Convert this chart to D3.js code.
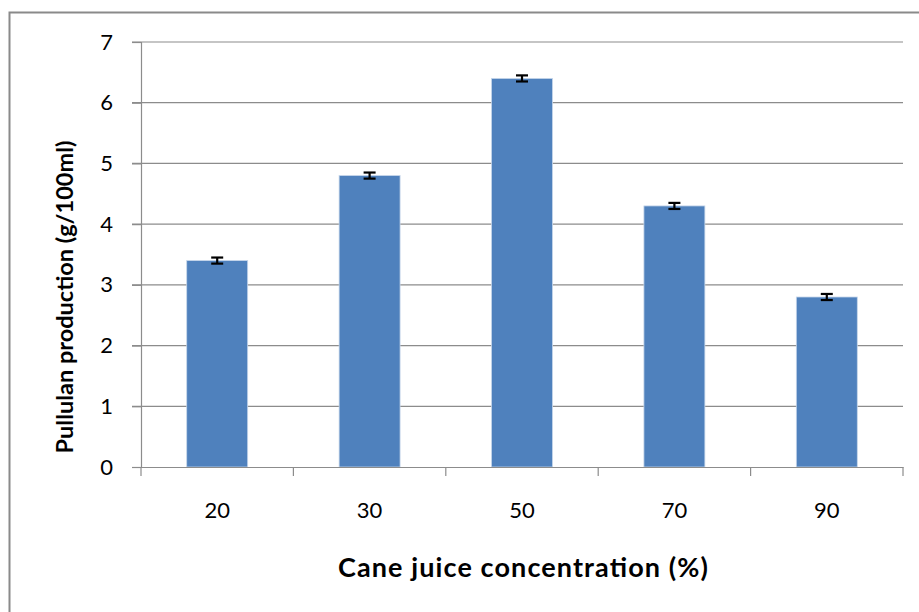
<!DOCTYPE html>
<html><head><meta charset="utf-8">
<script src="https://cdn.jsdelivr.net/npm/d3@7"></script>
<style>body{margin:0;background:#fff}</style>
</head><body>
<svg id="c" width="919" height="612"></svg>
<script>
const categories = ["20", "30", "50", "70", "90"];
const values = [3.4, 4.8, 6.4, 4.3, 2.8];
const errors = [0.05, 0.05, 0.05, 0.05, 0.05];
const yTicks = [0, 1, 2, 3, 4, 5, 6, 7];

const svg = d3.select("#c");
const font = "Lato, 'Open Sans', sans-serif";
const mLeft = 141, mRight = 903, mTop = 42, mBottom = 467;

svg.append("rect").attr("x", 9.5).attr("y", 12.5).attr("width", 950).attr("height", 650)
  .attr("fill", "none").attr("stroke", "#8a8a8a").attr("stroke-width", 2);

const x = d3.scaleBand().domain(categories).range([mLeft, mRight]).paddingInner(0.6).paddingOuter(0.3);
const xOuter = d3.scaleBand().domain(categories).range([mLeft, mRight]);
const y = d3.scaleLinear().domain([0, 7]).range([mBottom, mTop]);

// gridlines
svg.append("g").selectAll("line").data(yTicks.filter(d => d > 0)).join("line")
  .attr("x1", mLeft - 9).attr("x2", mRight).attr("y1", d => y(d)).attr("y2", d => y(d))
  .attr("stroke", "#8c8c8c").attr("stroke-width", 1.2);

// y axis
const ya = svg.append("g").attr("transform", `translate(${mLeft},0)`)
  .call(d3.axisLeft(y).tickValues(yTicks).tickSize(9).tickPadding(19).tickFormat(d3.format("d")));
ya.select(".domain").attr("stroke", "#8c8c8c").attr("stroke-width", 1.2);
ya.selectAll(".tick line").attr("stroke", "#8c8c8c").attr("stroke-width", 1.2);
ya.selectAll("text").attr("font-family", font).attr("font-size", 22).attr("fill", "#000");

// bars
svg.append("g").selectAll("rect").data(values).join("rect")
  .attr("x", (d, i) => x(categories[i])).attr("width", x.bandwidth())
  .attr("y", d => y(d)).attr("height", d => y(0) - y(d))
  .attr("fill", "#4f81bd").attr("stroke", "#c6d6ea").attr("stroke-width", 0.8);

// x axis
const xa = svg.append("g").attr("transform", `translate(0,${mBottom})`)
  .call(d3.axisBottom(xOuter).tickSize(0).tickPadding(35));
xa.select(".domain").attr("stroke", "#8c8c8c").attr("stroke-width", 1.2);
xa.selectAll("text").attr("font-family", font).attr("font-size", 22).attr("fill", "#000");
svg.append("g").selectAll("line").data(d3.range(categories.length + 1)).join("line")
  .attr("x1", i => mLeft + i * xOuter.step()).attr("x2", i => mLeft + i * xOuter.step())
  .attr("y1", mBottom).attr("y2", mBottom + 9).attr("stroke", "#8c8c8c").attr("stroke-width", 1.2);

// error bars
const eb = svg.append("g").attr("stroke", "#000").attr("stroke-width", 2.2);
values.forEach((v, i) => {
  const cx = x(categories[i]) + x.bandwidth() / 2;
  eb.append("line").attr("x1", cx).attr("x2", cx).attr("y1", y(v + errors[i])).attr("y2", y(v - errors[i]));
  eb.append("line").attr("x1", cx - 6).attr("x2", cx + 6).attr("y1", y(v + errors[i])).attr("y2", y(v + errors[i]));
  eb.append("line").attr("x1", cx - 6).attr("x2", cx + 6).attr("y1", y(v - errors[i])).attr("y2", y(v - errors[i]));
});

// titles
svg.append("text").attr("x", 523).attr("y", 577).attr("text-anchor", "middle")
  .attr("font-family", font).attr("font-weight", "bold").attr("font-size", 27)
  .attr("textLength", 370).attr("lengthAdjust", "spacing").text("Cane juice concentration (%)");
svg.append("text").attr("transform", `translate(73,297) rotate(-90)`).attr("text-anchor", "middle")
  .attr("font-family", font).attr("font-weight", "bold").attr("font-size", 23.5)
  .text("Pullulan production (g/100ml)");
</script>
</body></html>
